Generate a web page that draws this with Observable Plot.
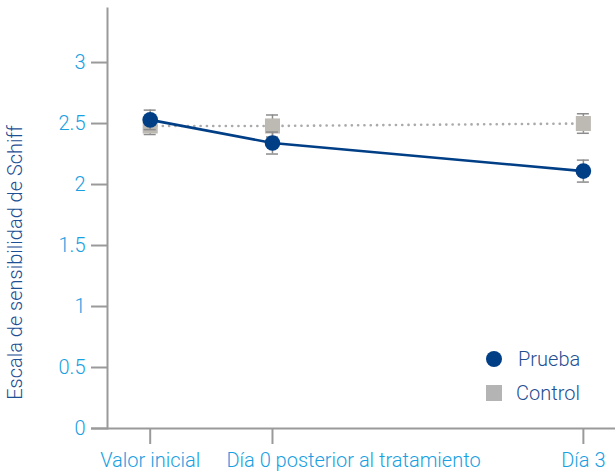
<!DOCTYPE html>
<html>
<head>
<meta charset="utf-8">
<script src="https://cdn.jsdelivr.net/npm/d3@7"></script>
<script src="https://cdn.jsdelivr.net/npm/@observablehq/plot@0.6"></script>
<style>
  html, body { margin: 0; padding: 0; background: #fff; }
  #wrap { position: relative; width: 615px; height: 476px; font-family: Roboto, "Liberation Sans", sans-serif; font-weight: 300; }
  .leg { position: absolute; display: flex; align-items: center; font-size: 20px; color: #1f4f92; }
  .leg svg { margin-right: 8px; }
</style>
</head>
<body>
<div id="wrap"></div>
<script>
// Time points (x in days; "Valor inicial" is baseline before day 0)
const timeLabels = ["Valor inicial", "Día 0 posterior al tratamiento", "Día 3"];
const timeDays = [-1.18, 0, 3];
// Series values (Schiff sensitivity score) and error half-widths
const pruebaMean = [2.53, 2.34, 2.11];
const pruebaErr  = [0.08, 0.09, 0.09];
const controlMean = [2.48, 2.48, 2.50];
const controlErr  = [0.07, 0.09, 0.08];
const yTicks = [0, 0.5, 1, 1.5, 2, 2.5, 3];

const prueba = timeDays.map((d, i) => ({x: d, y: pruebaMean[i], lo: pruebaMean[i] - pruebaErr[i], hi: pruebaMean[i] + pruebaErr[i]}));
const control = timeDays.map((d, i) => ({x: d, y: controlMean[i], lo: controlMean[i] - controlErr[i], hi: controlMean[i] + controlErr[i]}));

const navy = "#003e86";
const grayFill = "#bdb9b3";
const errColor = "#8c8c8c";
const tickBlue = "#18a0e2";
const titleBlue = "#1d4f94";
const axisGray = "#9a9a9a";

const errMarks = (data) => [
  Plot.ruleX(data, {x: "x", y1: "lo", y2: "hi", stroke: errColor, strokeWidth: 1.5}),
  Plot.ruleY(data, {x1: "x", x2: "x", y: "lo", stroke: errColor, strokeWidth: 1.5, insetLeft: -6, insetRight: -6}),
  Plot.ruleY(data, {x1: "x", x2: "x", y: "hi", stroke: errColor, strokeWidth: 1.5, insetLeft: -6, insetRight: -6})
];

const labelOf = d => timeLabels[timeDays.indexOf(d)];

const chart = Plot.plot({
  width: 615,
  height: 476,
  marginLeft: 107,
  marginRight: 0,
  marginTop: 8,
  marginBottom: 48,
  style: {fontFamily: "Roboto, 'Liberation Sans', sans-serif", fontWeight: 300, fontSize: "20px", background: "#fff"},
  x: {domain: [-1.592, 3.31]},
  y: {domain: [0, 3.443]},
  marks: [
    Plot.frame({anchor: "left", stroke: axisGray, strokeWidth: 2}),
    Plot.ruleY([0], {stroke: axisGray, strokeWidth: 2, insetLeft: -16}),
    Plot.axisY({ticks: yTicks, tickFormat: d => String(d), tickSize: 16, tickPadding: 6, stroke: axisGray, strokeWidth: 2, fill: tickBlue, fontSize: 20, label: null}),
    // x tick lines
    Plot.axisX({ticks: timeDays, tickFormat: () => "", tickSize: 16, stroke: axisGray, strokeWidth: 2, label: null}),
    // x tick labels
    Plot.axisX({ticks: [timeDays[0], timeDays[2]], tickFormat: labelOf, tickSize: 0, tickPadding: 24, fill: tickBlue, fontSize: 20, label: null}),
    Plot.axisX({ticks: [timeDays[1]], tickFormat: labelOf, tickSize: 0, tickPadding: 24, fill: tickBlue, fontSize: 20, textAnchor: "start", dx: -46, label: null}),
    Plot.text(["Escala de sensibilidad de Schiff"], {frameAnchor: "left", textAnchor: "middle", dx: -92, dy: 44, rotate: -90, fill: titleBlue, fontSize: 20, fontWeight: 300}),
    ...errMarks(control),
    Plot.line(control, {x: "x", y: "y", stroke: "#aaaaaa", strokeWidth: 2.6, strokeDasharray: "0.1,6.2", strokeLinecap: "round"}),
    Plot.dot(control, {x: "x", y: "y", symbol: "square", r: 8.5, fill: grayFill, stroke: "none"}),
    ...errMarks(prueba),
    Plot.line(prueba, {x: "x", y: "y", stroke: navy, strokeWidth: 2.6}),
    Plot.dot(prueba, {x: "x", y: "y", r: 7.8, fill: navy, stroke: "none"})
  ]
});

const wrap = document.getElementById("wrap");
wrap.appendChild(chart);

const legendItems = [
  {label: "Prueba", symbol: "circle", color: navy, left: 486, top: 346},
  {label: "Control", symbol: "square", color: "#b4b4b4", left: 486, top: 380}
];
for (const it of legendItems) {
  const div = document.createElement("div");
  div.className = "leg";
  div.style.left = it.left + "px";
  div.style.top = it.top + "px";
  const shape = it.symbol === "circle"
    ? `<circle cx="8" cy="13" r="8" fill="${it.color}"/>`
    : `<rect x="0" y="5" width="16" height="16" fill="${it.color}"/>`;
  div.innerHTML = `<svg width="${it.symbol === "circle" ? 24 : 22}" height="26">${shape}</svg><span>${it.label}</span>`;
  wrap.appendChild(div);
}
</script>
</body>
</html>
